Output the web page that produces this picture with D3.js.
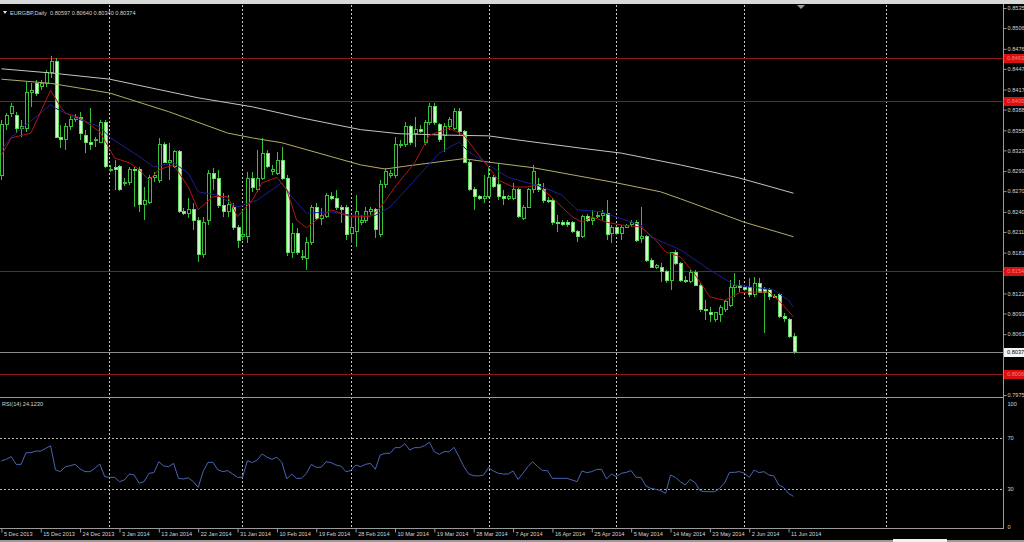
<!DOCTYPE html>
<html><head><meta charset="utf-8">
<script src="https://cdn.jsdelivr.net/npm/d3@7"></script>
<style>html,body{margin:0;padding:0;background:#000;overflow:hidden}</style>
</head><body><svg id="c" width="1024" height="542"></svg>
<script>
const dateLabels=["5 Dec 2013","15 Dec 2013","24 Dec 2013","3 Jan 2014","13 Jan 2014","22 Jan 2014","31 Jan 2014","10 Feb 2014","19 Feb 2014","28 Feb 2014","10 Mar 2014","19 Mar 2014","28 Mar 2014","7 Apr 2014","16 Apr 2014","25 Apr 2014","5 May 2014","14 May 2014","23 May 2014","2 Jun 2014","11 Jun 2014"];
const dateBars=[0,8,16,24,32,40,48,56,64,72,80,88,96,104,112,120,128,136,144,152,160];
const priceTicks=[0.8535,0.8506,0.8476,0.8447,0.8417,0.8388,0.8358,0.8329,0.8299,0.8270,0.8240,0.8211,0.8181,0.8122,0.8093,0.8063,0.7975];
const levelLines=[0.8463,0.8400,0.8154,0.8006];
const lastPrice=0.8037;
const rsiTicks=[100,70,30,0];
const rsiLevels=[70,30];
const gridBars=[21.9,48.9,71.1,99.1,124.9,150.9,179.8];

const opens=[0.8293,0.8366,0.8383,0.8379,0.8361,0.8361,0.8413,0.8426,0.8421,0.8426,
0.8441,0.8457,0.8348,0.8344,0.8363,0.8374,0.8376,0.8351,0.8341,0.8343,
0.8341,0.8369,0.8301,0.8304,0.8305,0.8282,0.8282,0.8302,0.8301,0.8251,
0.8254,0.8290,0.8286,0.8338,0.8311,0.8306,0.8327,0.8241,0.8237,0.8244,
0.8228,0.8178,0.8228,0.8296,0.8289,0.8249,0.8240,0.8246,0.8217,0.8204,
0.8204,0.8289,0.8272,0.8289,0.8325,0.8299,0.8296,0.8315,0.8289,0.8181,
0.8209,0.8175,0.8173,0.8195,0.8246,0.8231,0.8233,0.8262,0.8259,0.8246,
0.8246,0.8209,0.8211,0.8225,0.8228,0.8240,0.8243,0.8207,0.8279,0.8293,
0.8293,0.8337,0.8337,0.8363,0.8354,0.8359,0.8340,0.8369,0.8392,0.8366,
0.8351,0.8363,0.8361,0.8385,0.8356,0.8312,0.8272,0.8262,0.8260,0.8262,
0.8290,0.8279,0.8262,0.8260,0.8260,0.8272,0.8231,0.8247,0.8272,0.8279,
0.8272,0.8257,0.8257,0.8225,0.8224,0.8224,0.8224,0.8211,0.8204,0.8233,
0.8228,0.8234,0.8235,0.8238,0.8209,0.8217,0.8209,0.8218,0.8221,0.8224,
0.8202,0.8204,0.8170,0.8160,0.8160,0.8153,0.8141,0.8181,0.8166,0.8141,
0.8139,0.8152,0.8134,0.8098,0.8095,0.8084,0.8091,0.8098,0.8105,0.8131,
0.8134,0.8130,0.8130,0.8120,0.8137,0.8127,0.8127,0.8118,0.8120,0.8088,
0.8084,0.80597];
const highs=[0.8373,0.8383,0.8398,0.8385,0.8373,0.8428,0.8426,0.8431,0.8431,0.8445,
0.8466,0.8463,0.8366,0.8369,0.8380,0.8382,0.8385,0.8359,0.8390,0.8348,
0.8373,0.8373,0.8308,0.8315,0.8308,0.8289,0.8305,0.8305,0.8305,0.8276,
0.8293,0.8298,0.8347,0.8341,0.8340,0.8330,0.8330,0.8246,0.8260,0.8253,
0.8233,0.8233,0.8301,0.8304,0.8301,0.8267,0.8264,0.8253,0.8221,0.8243,
0.8298,0.8298,0.8330,0.8347,0.8330,0.8308,0.8327,0.8334,0.8293,0.8224,
0.8217,0.8185,0.8204,0.8250,0.8253,0.8246,0.8267,0.8269,0.8272,0.8250,
0.8250,0.8233,0.8264,0.8235,0.8247,0.8247,0.8246,0.8286,0.8304,0.8301,
0.8348,0.8344,0.8370,0.8366,0.8377,0.8366,0.8373,0.8398,0.8398,0.8369,
0.8369,0.8377,0.8390,0.8390,0.8359,0.8315,0.8276,0.8264,0.8293,0.8305,
0.8293,0.8311,0.8272,0.8264,0.8282,0.8275,0.8250,0.8275,0.8308,0.8289,
0.8282,0.8262,0.8260,0.8235,0.8228,0.8228,0.8227,0.8214,0.8235,0.8237,
0.8243,0.8240,0.8243,0.8257,0.8221,0.8220,0.8221,0.8222,0.8228,0.8228,
0.8247,0.8207,0.8173,0.8165,0.8166,0.8156,0.8182,0.8185,0.8168,0.8147,
0.8156,0.8156,0.8137,0.8112,0.8102,0.8095,0.8105,0.8112,0.8141,0.8152,
0.8141,0.8134,0.8144,0.8146,0.8144,0.8131,0.8130,0.8121,0.8123,0.8094,
0.8086,0.80640];
const lows=[0.8286,0.8359,0.8377,0.8354,0.8348,0.8356,0.8392,0.8408,0.8416,0.8421,
0.8434,0.8347,0.8332,0.8330,0.8359,0.8370,0.8344,0.8325,0.8330,0.8334,
0.8340,0.8304,0.8298,0.8272,0.8270,0.8277,0.8279,0.8247,0.8240,0.8228,
0.8251,0.8283,0.8282,0.8311,0.8286,0.8304,0.8238,0.8235,0.8231,0.8214,
0.8168,0.8173,0.8221,0.8272,0.8246,0.8233,0.8233,0.8214,0.8188,0.8199,
0.8195,0.8269,0.8269,0.8286,0.8304,0.8293,0.8293,0.8286,0.8176,0.8173,
0.8178,0.8170,0.8156,0.8192,0.8228,0.8221,0.8231,0.8257,0.8243,0.8224,
0.8199,0.8195,0.8189,0.8221,0.8224,0.8235,0.8202,0.8204,0.8275,0.8289,
0.8289,0.8332,0.8334,0.8337,0.8334,0.8354,0.8337,0.8366,0.8366,0.8341,
0.8327,0.8359,0.8359,0.8351,0.8311,0.8270,0.8243,0.8257,0.8253,0.8260,
0.8275,0.8257,0.8250,0.8257,0.8257,0.8231,0.8228,0.8246,0.8267,0.8269,
0.8253,0.8253,0.8221,0.8211,0.8220,0.8218,0.8209,0.8196,0.8202,0.8225,
0.8221,0.8231,0.8228,0.8199,0.8195,0.8207,0.8199,0.8217,0.8218,0.8196,
0.8195,0.8168,0.8159,0.8157,0.8139,0.8137,0.8127,0.8163,0.8139,0.8137,
0.8137,0.8133,0.8095,0.8084,0.8081,0.8081,0.8081,0.8095,0.8102,0.8117,
0.8124,0.8126,0.8117,0.8117,0.8123,0.8065,0.8112,0.8115,0.8086,0.8081,
0.8057,0.80340];
const closes=[0.8366,0.8379,0.8392,0.8361,0.8363,0.8413,0.8416,0.8412,0.8426,0.8441,
0.8457,0.8348,0.8344,0.8363,0.8374,0.8377,0.8354,0.8341,0.8337,0.8345,
0.8369,0.8305,0.8302,0.8301,0.8272,0.8283,0.8302,0.8301,0.8250,0.8256,
0.8290,0.8293,0.8338,0.8312,0.8314,0.8327,0.8241,0.8238,0.8244,0.8228,
0.8178,0.8225,0.8296,0.8289,0.8249,0.8240,0.8250,0.8217,0.8199,0.8207,
0.8289,0.8275,0.8289,0.8325,0.8306,0.8301,0.8315,0.8289,0.8181,0.8209,
0.8181,0.8176,0.8195,0.8246,0.8231,0.8235,0.8264,0.8260,0.8246,0.8243,
0.8207,0.8218,0.8240,0.8228,0.8240,0.8243,0.8214,0.8279,0.8298,0.8295,
0.8337,0.8338,0.8363,0.8340,0.8359,0.8357,0.8369,0.8392,0.8369,0.8344,
0.8363,0.8374,0.8385,0.8356,0.8312,0.8272,0.8262,0.8260,0.8262,0.8290,
0.8276,0.8262,0.8260,0.8262,0.8272,0.8233,0.8247,0.8272,0.8298,0.8272,
0.8257,0.8256,0.8224,0.8224,0.8222,0.8221,0.8211,0.8204,0.8233,0.8228,
0.8231,0.8235,0.8238,0.8207,0.8217,0.8209,0.8218,0.8220,0.8224,0.8199,
0.8204,0.8170,0.8160,0.8162,0.8153,0.8141,0.8181,0.8166,0.8141,0.8140,
0.8152,0.8134,0.8098,0.8097,0.8091,0.8094,0.8102,0.8110,0.8131,0.8134,
0.8131,0.8127,0.8120,0.8137,0.8124,0.8124,0.8117,0.8117,0.8088,0.8086,
0.8059,0.80374];

const maWhite=[[0,0.8447],[10,0.8441],[22,0.8432],[40,0.8405],[51,0.8392],[61,0.8376],[73,0.8359],[81,0.8353],[91,0.8351],[99,0.8350],[105,0.8344],[118,0.8332],[126,0.8325],[138,0.8308],[150,0.8289],[161,0.8267]];
const maKhaki=[[0,0.8432],[10,0.8426],[22,0.8412],[34,0.8385],[46,0.8354],[51,0.8347],[57,0.8340],[73,0.8308],[78,0.8302],[82,0.8306],[94,0.8317],[99,0.8312],[108,0.8304],[125,0.8282],[134,0.8269],[138,0.8259],[151,0.8225],[161,0.8204]];
const maBlue=[[0,0.8330],[2,0.8348],[10,0.8395],[11,0.8390],[15,0.8376],[20,0.8363],[22,0.8348],[27,0.8325],[31,0.8305],[35,0.8311],[38,0.8296],[40,0.8269],[44,0.8264],[48,0.8247],[52,0.8257],[57,0.8282],[59,0.8262],[62,0.8238],[67,0.8240],[71,0.8235],[76,0.8235],[79,0.8247],[84,0.8286],[89,0.8325],[93,0.8341],[95,0.8327],[99,0.8308],[103,0.8290],[110,0.8276],[114,0.8264],[117,0.8243],[122,0.8240],[126,0.8230],[130,0.8221],[132,0.8204],[138,0.8185],[144,0.8156],[149,0.8134],[154,0.8130],[157,0.8127],[160,0.8112],[161,0.8102]];
const maRed=[[0,0.8322],[2,0.8347],[6,0.8354],[10,0.8416],[12,0.8392],[13,0.8383],[16,0.8376],[20,0.8356],[23,0.8318],[26,0.8311],[28,0.8301],[30,0.8286],[32,0.8301],[35,0.8308],[38,0.8276],[40,0.8243],[43,0.8262],[46,0.8262],[48,0.8233],[51,0.8257],[53,0.8282],[56,0.8290],[58,0.8272],[60,0.8228],[62,0.8217],[64,0.8228],[67,0.8243],[71,0.8233],[75,0.8233],[77,0.8246],[80,0.8276],[84,0.8311],[87,0.8351],[91,0.8361],[94,0.8351],[97,0.8322],[99,0.8305],[101,0.8286],[104,0.8276],[107,0.8276],[109,0.8279],[112,0.8260],[116,0.8233],[118,0.8225],[120,0.8233],[123,0.8225],[126,0.8221],[130,0.8218],[133,0.8199],[135,0.8182],[138,0.8175],[141,0.8149],[144,0.8117],[147,0.8112],[150,0.8123],[152,0.8124],[156,0.8124],[158,0.8112],[161,0.8088]];

const rsi=[52.0,53.3,55.4,49.3,49.3,58.5,58.5,59.8,59.8,61.9,
64.0,44.9,43.6,47.5,48.3,49.3,45.7,43.6,43.6,46.2,
49.6,39.6,39.1,39.1,35.7,37.0,41.7,40.9,34.4,35.7,
42.3,42.8,51.4,48.0,47.5,50.1,38.3,37.8,38.8,35.7,
31.2,43.6,50.9,50.9,44.9,43.6,44.4,41.7,39.1,39.1,
52.2,50.7,52.8,57.5,54.9,53.3,54.9,50.9,37.8,41.7,
38.3,38.3,42.3,49.3,47.0,47.0,51.4,50.7,48.8,48.0,
43.6,44.4,48.8,47.5,49.3,50.1,45.4,56.7,58.0,58.0,
62.5,62.5,65.6,60.6,62.5,62.5,64.0,66.7,59.3,57.2,
59.3,59.3,62.7,55.4,47.5,41.7,40.4,40.2,40.9,46.7,
44.1,42.3,41.7,41.7,44.1,37.5,42.3,47.5,51.4,47.5,
44.4,44.4,38.3,38.3,38.3,38.3,37.0,35.7,44.1,42.8,
43.6,45.4,45.4,37.8,41.7,39.6,42.3,43.0,44.4,39.1,
39.1,32.3,30.4,29.7,28.6,26.5,40.9,39.1,35.7,33.1,
37.5,34.9,28.6,27.8,27.8,27.8,30.4,34.9,43.0,43.0,
43.6,42.3,39.1,44.9,42.8,43.6,40.9,40.2,33.1,31.2,
26.5,24.1];

const W=1024,H=542;
const FONT="'Liberation Sans', Arial, sans-serif";
const FS=5.6;
const TXT="#d4d4d4";
const svg=d3.select('#c');
svg.append('rect').attr('width',W).attr('height',H).attr('fill','#000');
svg.append('rect').attr('width',W).attr('height',4).attr('fill','#d8d8d8');
svg.append('rect').attr('y',540).attr('width',W).attr('height',2).attr('fill','#9a9a9a');
svg.append('rect').attr('x',893).attr('y',539).attr('width',54).attr('height',3).attr('fill','#f2f2f2');

const x=d3.scaleLinear().domain([0,161]).range([1.4,793.5]);
const y=d3.scaleLinear().domain([0.7975,0.8535]).range([395,8]);
const yr=d3.scaleLinear().domain([0,100]).range([527,400]);
const AX=1003.5;
const px=v=>Math.round(v)+0.5;

// vertical dotted grid
svg.append('g').selectAll('line').data(gridBars).join('line')
  .attr('x1',d=>px(x(d))).attr('x2',d=>px(x(d))).attr('y1',5).attr('y2',528)
  .attr('stroke','#c8c8c8').attr('stroke-dasharray','2,2').attr('stroke-width',1);

// panel borders
svg.append('line').attr('x1',0).attr('x2',AX).attr('y1',397.5).attr('y2',397.5).attr('stroke','#9a9a9a');
svg.append('line').attr('x1',0).attr('x2',AX).attr('y1',528.5).attr('y2',528.5).attr('stroke','#9a9a9a');
svg.append('line').attr('x1',AX).attr('x2',AX).attr('y1',4).attr('y2',529).attr('stroke','#9a9a9a');

// level lines
svg.append('g').selectAll('line').data(levelLines).join('line')
  .attr('x1',0).attr('x2',AX).attr('y1',d=>px(y(d))).attr('y2',d=>px(y(d)))
  .attr('stroke','#8e1616');
svg.append('line').attr('x1',0).attr('x2',AX).attr('y1',px(y(lastPrice))).attr('y2',px(y(lastPrice))).attr('stroke','#8a8a8a');

// candles
const idx=d3.range(opens.length);
const cg=svg.append('g').attr('shape-rendering','crispEdges');
cg.selectAll('line').data(idx).join('line')
  .attr('x1',i=>px(x(i))).attr('x2',i=>px(x(i)))
  .attr('y1',i=>y(highs[i])).attr('y2',i=>y(lows[i]))
  .attr('stroke','#35c035');
cg.selectAll('rect').data(idx).join('rect')
  .attr('x',i=>Math.round(x(i))-1.5+0.5).attr('width',3)
  .attr('y',i=>Math.min(y(opens[i]),y(closes[i])))
  .attr('height',i=>Math.max(1,Math.abs(y(opens[i])-y(closes[i]))))
  .attr('fill',i=>closes[i]<opens[i]?'#d2f7c8':'#000')
  .attr('stroke',i=>closes[i]<opens[i]?'#5fe05f':'#35c035').attr('stroke-width',1);

// moving averages
const ln=d3.line().x(d=>x(d[0])).y(d=>y(d[1]));
[[maWhite,'#c4c4c4'],[maKhaki,'#b4ac68'],[maBlue,'#1c1c9c'],[maRed,'#b81414']].forEach(([d,c])=>{
  svg.append('path').datum(d).attr('d',ln).attr('fill','none').attr('stroke',c).attr('stroke-width',1);
});

// price axis
const ya=svg.append('g').attr('transform',`translate(${AX},0)`)
  .call(d3.axisRight(y).tickValues(priceTicks).tickSize(3).tickPadding(1).tickFormat(d3.format('.4f')));
ya.select('.domain').remove();
ya.selectAll('line').attr('stroke','#9a9a9a');
ya.selectAll('text').attr('fill',TXT).style('font-family',FONT).style('font-size',FS+'px');

// level labels
const lg=svg.append('g').selectAll('g').data(levelLines).join('g')
  .attr('transform',d=>`translate(${AX+0.5},${Math.round(y(d))})`);
lg.append('rect').attr('x',0).attr('y',-4).attr('width',21).attr('height',9).attr('fill','#d81010');
lg.append('text').attr('x',3).attr('y',0.5).attr('dy','0.35em').text(d=>d.toFixed(4))
  .attr('fill','#ff7a7a').style('font-family',FONT).style('font-size',FS+'px');
const cp=svg.append('g').attr('transform',`translate(${AX+0.5},${Math.round(y(lastPrice))})`);
cp.append('rect').attr('x',0).attr('y',-4).attr('width',21).attr('height',9).attr('fill','#f4f4f4');
cp.append('text').attr('x',3).attr('y',0.5).attr('dy','0.35em').text(lastPrice.toFixed(4))
  .attr('fill','#000').style('font-family',FONT).style('font-size',FS+'px');

// RSI
svg.append('g').selectAll('line').data(rsiLevels).join('line')
  .attr('x1',0).attr('x2',AX).attr('y1',d=>px(yr(d))).attr('y2',d=>px(yr(d)))
  .attr('stroke','#b0b0b0').attr('stroke-dasharray','2,2');
svg.append('path').datum(rsi).attr('fill','none').attr('stroke','#4a64b4').attr('stroke-width',1)
  .attr('d',d3.line().x((d,i)=>x(i)).y(d=>yr(d)));
const ra=svg.append('g').attr('transform',`translate(${AX},0)`)
  .call(d3.axisRight(yr).tickValues(rsiTicks).tickSize(0).tickPadding(4).tickFormat(d3.format('d')));
ra.select('.domain').remove();
ra.selectAll('text').attr('fill',TXT).style('font-family',FONT).style('font-size',FS+'px');
ra.selectAll('.tick').filter(d=>d===100).select('text').attr('dy','0.9em');

// date axis
const xa=svg.append('g').attr('transform','translate(0,528.5)')
  .call(d3.axisBottom(x).tickValues(dateBars).tickSize(4).tickFormat((d,i)=>dateLabels[i]));
xa.select('.domain').remove();
xa.selectAll('line').attr('stroke','#9a9a9a');
xa.selectAll('text').attr('text-anchor','start').attr('x',2).attr('y',4).attr('dy','0.71em')
  .attr('fill',TXT).style('font-family',FONT).style('font-size',FS+'px');

// headers
svg.append('path').attr('d','M3,11 L7,11 L5,14 Z').attr('fill','#e0e0e0');
svg.append('text').attr('x',10).attr('y',14.5).attr('fill',TXT).style('font-family',FONT).style('font-size',FS+'px')
  .attr('xml:space','preserve')
  .text('EURGBP,Daily  '+[opens[161],highs[161],lows[161],closes[161]].map(v=>v.toFixed(5)).join(' '));
svg.append('text').attr('x',2).attr('y',406).attr('fill',TXT).style('font-family',FONT).style('font-size',FS+'px')
  .text('RSI(14) '+(24.1230).toFixed(4));
// chart shift marker
svg.append('path').attr('d','M797,5 L805,5 L801,9 Z').attr('fill','#9a9a9a');
</script>
</body></html>
